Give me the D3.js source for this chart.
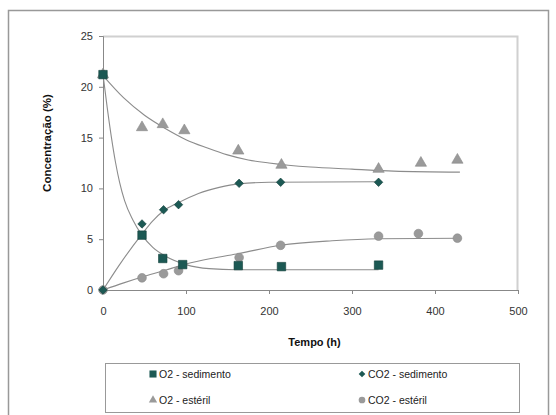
<!DOCTYPE html>
<html>
<head>
<meta charset="utf-8">
<script src="https://cdn.jsdelivr.net/npm/d3@7"></script>
<style>
  body { margin: 0; background: #fff; }
  text { font-family: "Liberation Sans", Arial, sans-serif; }
</style>
</head>
<body>
<div id="chart"></div>
<script>
// measured points (tempo h, concentração %)
var o2Sed = [[0,21.2],[47,5.4],[72,3.1],[96,2.5],[163,2.4],[215,2.3],[332,2.45]];
var co2Sed = [[0,0],[47,6.5],[73,7.9],[91,8.4],[164,10.5],[214,10.6],[332,10.6]];
var o2Est = [[0,21.2],[47,16.0],[72,16.3],[98,15.7],[163,13.7],[215,12.3],[332,11.9],[383,12.5],[427,12.8]];
var co2Est = [[0,0],[47,1.2],[73,1.6],[91,1.9],[164,3.2],[214,4.4],[332,5.3],[380,5.55],[427,5.1]];

// fitted curves
var o2SedFit = [[0,21.2],[5,18],[10,15.1],[15,12.6],[20,10.6],[26,8.8],[36,6.9],[47,5.4],[60,4.2],[76,3.3],[100,2.5],[128,2.1],[160,2.0],[332,2.0]];
var co2SedFit = [[0,0],[20,2.5],[47,5.5],[60,6.8],[73,7.8],[91,8.6],[115,9.5],[140,10.1],[164,10.45],[200,10.6],[332,10.65]];
var o2EstFit = [[0,21.1],[25,18.9],[50,17.2],[75,15.9],[100,14.8],[125,14.0],[150,13.3],[175,12.8],[200,12.5],[250,12.1],[300,11.9],[350,11.7],[430,11.6]];
var co2EstFit = [[0,0],[25,0.7],[50,1.35],[75,1.95],[100,2.55],[130,3.1],[164,3.6],[214,4.4],[276,4.85],[332,5.05],[430,5.1]];

var xTicks = [0,100,200,300,400,500];
var yTicks = [0,5,10,15,20,25];
var legendLabels = ["O2 - sedimento","CO2 - sedimento","O2 - estéril","CO2 - estéril"];

var W = 556, H = 415;
var margin = {top: 36, right: 38, bottom: 125, left: 103};
var width = W - margin.left - margin.right,
    height = H - margin.top - margin.bottom;

var teal = "#1c5954", gray = "#9a9a9a", lineCol = "#8c8c8c";

var svg = d3.select("#chart").append("svg")
  .attr("width", W).attr("height", H);

// outer chart border
svg.append("rect")
  .attr("x", 8.5).attr("y", 10.5).attr("width", 540).attr("height", 420)
  .style("fill", "none").style("stroke", "#999").style("stroke-width", 1.5);

var g = svg.append("g")
  .attr("transform", "translate(" + margin.left + "," + margin.top + ")");

var x = d3.scaleLinear().domain([0,500]).range([0, width]);
var y = d3.scaleLinear().domain([0,25]).range([height, 0]);

// plot area border
g.append("path")
  .attr("d", "M0,0.5H" + (width - 0.5) + "V" + height)
  .style("fill", "none").style("stroke", "#d0d0d0").style("stroke-width", 2);

// axes
var xAxis = g.append("g").attr("transform", "translate(0," + height + ")")
  .call(d3.axisBottom(x).tickValues(xTicks).tickSize(4).tickPadding(13));
var yAxis = g.append("g")
  .call(d3.axisLeft(y).tickValues(yTicks).tickSize(4).tickPadding(6));
[xAxis, yAxis].forEach(function(a) {
  a.select(".domain").style("stroke", "#888");
  a.selectAll(".tick line").style("stroke", "#888");
  a.selectAll(".tick text").style("font-size", "11px").style("fill", "#333")
    .style("font-family", "Liberation Sans, Arial, sans-serif");
});

// axis titles
g.append("text")
  .attr("x", width / 2 + 4).attr("y", height + 56)
  .attr("text-anchor", "middle")
  .style("font-size", "11px").style("font-weight", "bold").style("fill", "#111")
  .text("Tempo (h)");
g.append("text")
  .attr("transform", "translate(-52," + (height / 2 - 20) + ") rotate(-90)")
  .attr("text-anchor", "middle")
  .style("font-size", "11.5px").style("font-weight", "bold").style("fill", "#111")
  .text("Concentração (%)");

// fitted curves
var line = d3.line()
  .x(function(d) { return x(d[0]); })
  .y(function(d) { return y(d[1]); })
  .curve(d3.curveMonotoneX);
[o2SedFit, co2SedFit, o2EstFit, co2EstFit].forEach(function(c) {
  g.append("path").datum(c).attr("d", line)
    .style("fill", "none").style("stroke", lineCol).style("stroke-width", 1.1);
});

// markers (diamond = square turned 45 degrees)
var series = [
  {data: o2Est, shape: d3.symbolTriangle, size: 55, color: gray, rot: 0},
  {data: co2Est, shape: d3.symbolCircle, size: 60, color: gray, rot: 0},
  {data: co2Sed, shape: d3.symbolSquare, size: 36, color: teal, rot: 45},
  {data: o2Sed, shape: d3.symbolSquare, size: 72, color: teal, rot: 0}
];
series.forEach(function(s) {
  g.selectAll(null).data(s.data).enter().append("path")
    .attr("transform", function(d) { return "translate(" + x(d[0]) + "," + y(d[1]) + ") rotate(" + s.rot + ")"; })
    .attr("d", d3.symbol().type(s.shape).size(s.size))
    .style("fill", s.color)
    .style("stroke", s.color === teal ? "#123f3b" : "#8a8a8a").style("stroke-width", 0.6);
});

// legend
var leg = svg.append("g");
leg.append("rect")
  .attr("x", 105.5).attr("y", 363.5).attr("width", 414).attr("height", 49)
  .style("fill", "#fff").style("stroke", "#999").style("stroke-width", 1);
var legShapes = [
  {shape: d3.symbolSquare, size: 50, color: teal, rot: 0},
  {shape: d3.symbolSquare, size: 22, color: teal, rot: 45},
  {shape: d3.symbolTriangle, size: 30, color: gray, rot: 0},
  {shape: d3.symbolCircle, size: 35, color: gray, rot: 0}
];
legendLabels.forEach(function(lbl, i) {
  var col = i % 2, row = Math.floor(i / 2);
  var lx = col === 0 ? 153 : 362, ly = 374 + row * 26;
  leg.append("path")
    .attr("transform", "translate(" + lx + "," + ly + ") rotate(" + legShapes[i].rot + ")")
    .attr("d", d3.symbol().type(legShapes[i].shape).size(legShapes[i].size))
    .style("fill", legShapes[i].color);
  leg.append("text")
    .attr("x", lx + 6).attr("y", ly + 4)
    .style("font-size", "10.5px").style("fill", "#222")
    .text(lbl);
});
</script>
</body>
</html>
